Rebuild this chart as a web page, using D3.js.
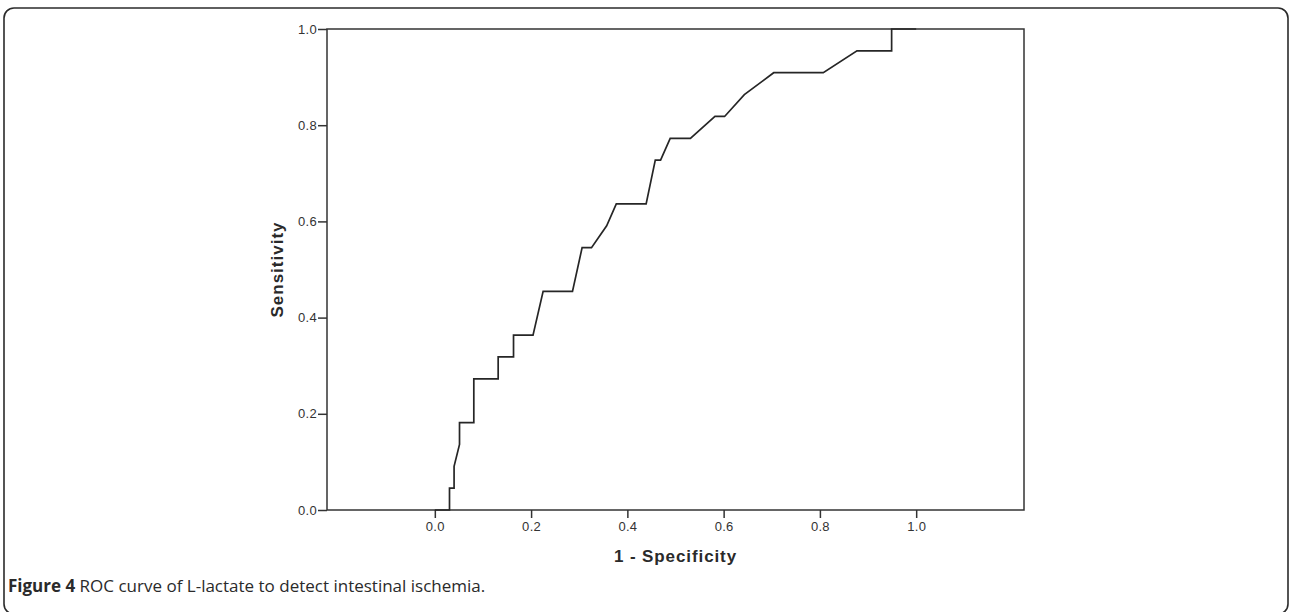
<!DOCTYPE html>
<html><head><meta charset="utf-8">
<script src="https://cdn.jsdelivr.net/npm/d3@7"></script>
<style>
html,body{margin:0;padding:0;background:#fff;}
svg{display:block;}
</style></head>
<body>
<svg id="c" width="1290" height="612"></svg>
<script>
// ROC curve points (1 - specificity, sensitivity)
const fpr = [0, 0.0305, 0.0305, 0.040, 0.040, 0.0513, 0.0513, 0.081, 0.081, 0.1316, 0.1316, 0.1635, 0.1635, 0.204, 0.225, 0.286, 0.306, 0.3255, 0.357, 0.377, 0.439, 0.458, 0.469, 0.489, 0.531, 0.582, 0.602, 0.643, 0.704, 0.807, 0.877, 0.949, 0.949, 1.0];
const tpr = [0, 0, 0.0455, 0.0455, 0.0909, 0.1364, 0.1818, 0.1818, 0.2727, 0.2727, 0.3182, 0.3182, 0.3636, 0.3636, 0.4545, 0.4545, 0.5455, 0.5455, 0.5909, 0.6364, 0.6364, 0.7273, 0.7273, 0.7727, 0.7727, 0.8182, 0.8182, 0.8636, 0.9091, 0.9091, 0.9545, 0.9545, 1.0, 1.0];
const xTicks = [0, 0.2, 0.4, 0.6, 0.8, 1.0];
const yTicks = [0, 0.2, 0.4, 0.6, 0.8, 1.0];
const xTitle = "1 - Specificity";
const yTitle = "Sensitivity";
const captionBold = "Figure 4";
const captionText = " ROC curve of L-lactate to detect intestinal ischemia.";

const svg = d3.select("#c");
const pL = 327, pR = 1024, pT = 29, pB = 510;
const x = d3.scaleLinear().domain([-0.224, 1.224]).range([pL, pR]);
const y = d3.scaleLinear().domain([0, 1]).range([pB, pT]);

// outer rounded border
svg.append("rect").attr("x", 4).attr("y", 8).attr("width", 1284).attr("height", 606)
  .attr("rx", 10).attr("fill", "none").attr("stroke", "#2b2b2b").attr("stroke-width", 1.6);

// plot frame
svg.append("rect").attr("x", pL).attr("y", pT).attr("width", pR - pL).attr("height", pB - pT)
  .attr("fill", "none").attr("stroke", "#333").attr("stroke-width", 1.5);

const fmt = d3.format(".1f");
const xa = svg.append("g").attr("transform", `translate(0,${pB})`)
  .call(d3.axisBottom(x).tickValues(xTicks).tickFormat(fmt).tickSize(8).tickPadding(4));
const ya = svg.append("g").attr("transform", `translate(${pL},0)`)
  .call(d3.axisLeft(y).tickValues(yTicks).tickFormat(fmt).tickSize(9).tickPadding(1));
[xa, ya].forEach(g => {
  g.attr("font-size", null).attr("font-family", null);
  g.select(".domain").remove();
  g.selectAll(".tick line").attr("stroke", "#333").attr("stroke-width", 1.5);
  g.selectAll(".tick text").attr("fill", "#333").style("font-family", "Liberation Sans, Arial, sans-serif")
    .style("font-size", "13px").style("letter-spacing", "0.3px");
});

// curve
const line = d3.line().x(d => x(d[0])).y(d => y(d[1]));
svg.append("path").datum(fpr.map((f, i) => [f, tpr[i]]))
  .attr("d", line).attr("fill", "none").attr("stroke", "#262626").attr("stroke-width", 1.7)
  .attr("stroke-linejoin", "miter");

// axis titles
svg.append("text").attr("x", (pL + pR) / 2).attr("y", 562).attr("text-anchor", "middle")
  .style("font-family", "Liberation Sans, Arial, sans-serif").style("font-weight", "bold")
  .style("font-size", "17px").style("letter-spacing", "0.9px").attr("fill", "#2a2a2a").text(xTitle);
svg.append("text").attr("transform", `translate(283,${(pT + pB) / 2}) rotate(-90)`)
  .attr("text-anchor", "middle")
  .style("font-family", "Liberation Sans, Arial, sans-serif").style("font-weight", "bold")
  .style("font-size", "17px").style("letter-spacing", "1px").attr("fill", "#2a2a2a").text(yTitle);

// caption
const cap = svg.append("text").attr("x", 8).attr("y", 592)
  .style("font-family", "Open Sans, sans-serif").style("font-size", "17px").attr("fill", "#2a2a2a");
cap.append("tspan").style("font-weight", "bold").text(captionBold);
cap.append("tspan").text(captionText);
</script>
</body></html>
